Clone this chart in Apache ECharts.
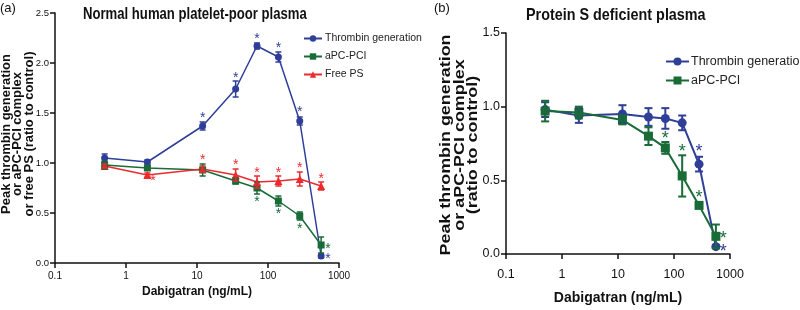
<!DOCTYPE html>
<html>
<head>
<meta charset="utf-8">
<script src="https://cdn.jsdelivr.net/npm/echarts@6/dist/echarts.min.js"></script>
<style>
  html, body { margin: 0; padding: 0; background: #fff; }
  #chart { width: 800px; height: 310px; }
</style>
</head>
<body>
<div id="chart"></div>
<script>
// dabigatran doses (ng/mL)
var doses = [0.5, 2, 12, 35, 70, 140, 280, 560];
var xTicks = ["0.1", "1", "10", "100", "1000"];

// (a) normal human platelet-poor plasma
var aThrombin = [1.05, 1.01, 1.37, 1.74, 2.17, 2.06, 1.42, 0.07];
var aThrombinErr = [0.04, 0.02, 0.04, 0.08, 0.03, 0.05, 0.04, 0.02];
var aApc = [0.98, 0.95, 0.93, 0.82, 0.75, 0.62, 0.47, 0.18];
var aApcErr = [0.04, 0.02, 0.06, 0.03, 0.06, 0.05, 0.04, 0.08];
var aFreePs = [0.97, 0.88, 0.94, 0.88, 0.81, 0.82, 0.84, 0.77];
var aFreePsErr = [0.02, 0.02, 0.03, 0.06, 0.06, 0.05, 0.07, 0.04];
// significance marks [dose, ratio]
var aThrombinStars = [[12, 1.48], [35, 1.88], [70, 2.27], [140, 2.18], [280, 1.54], [700, 0.07]];
var aApcStars = [[70, 0.64], [140, 0.52], [280, 0.37], [700, 0.17]];
var aFreePsStars = [[2.4, 0.85], [12, 1.06], [35, 1.01], [70, 0.93], [140, 0.93], [280, 0.98], [560, 0.87]];

// (b) protein S deficient plasma
var bThrombin = [0.98, 0.94, 0.95, 0.93, 0.92, 0.89, 0.61, 0.05];
var bThrombinErr = [0.05, 0.05, 0.06, 0.06, 0.07, 0.05, 0.05, 0.01];
var bApc = [0.97, 0.96, 0.91, 0.80, 0.72, 0.53, 0.33, 0.12];
var bApcErr = [0.07, 0.04, 0.03, 0.06, 0.04, 0.14, 0.02, 0.08];
var bThrombinStars = [[280, 0.72], [760, 0.04]];
var bApcStars = [[70, 0.81], [140, 0.72], [280, 0.41], [760, 0.13]];

var BLUE = "#2f3f98";
var GREEN = "#196b37";
var RED = "#ec2a2f";
var FONT = "Liberation Sans, Arial, sans-serif";

function pairs(ys) {
  return doses.map(function (d, i) { return [d, ys[i]]; });
}
function triples(ys, errs) {
  return doses.map(function (d, i) { return [d, ys[i], errs[i]]; });
}

function lineSeries(name, idx, ys, color, symbol, size, width) {
  return {
    type: "line", name: name, xAxisIndex: idx, yAxisIndex: idx,
    data: pairs(ys), symbol: symbol, symbolSize: size,
    itemStyle: { color: color },
    lineStyle: { color: color, width: width },
    z: 3
  };
}

function errSeries(idx, ys, errs, color, cap, width) {
  return {
    type: "custom", name: "err" + idx + color, xAxisIndex: idx, yAxisIndex: idx,
    data: triples(ys, errs),
    encode: { x: 0, y: 1 },
    z: 4,
    renderItem: function (params, api) {
      var x = api.value(0), y = api.value(1), e = api.value(2);
      var hi = api.coord([x, y + e]);
      var lo = api.coord([x, y - e]);
      var st = { stroke: color, lineWidth: width };
      return {
        type: "group",
        children: [
          { type: "line", shape: { x1: hi[0], y1: hi[1], x2: lo[0], y2: lo[1] }, style: st },
          { type: "line", shape: { x1: hi[0] - cap, y1: hi[1], x2: hi[0] + cap, y2: hi[1] }, style: st },
          { type: "line", shape: { x1: lo[0] - cap, y1: lo[1], x2: lo[0] + cap, y2: lo[1] }, style: st }
        ]
      };
    }
  };
}

function starSeries(idx, pts, color, fs) {
  return {
    type: "custom", name: "star" + idx + color, xAxisIndex: idx, yAxisIndex: idx,
    data: pts,
    encode: { x: 0, y: 1 },
    z: 5,
    renderItem: function (params, api) {
      var p = api.coord([api.value(0), api.value(1)]);
      return {
        type: "text",
        x: p[0], y: p[1] + fs * 0.22,
        style: {
          text: "*", fill: color, fontSize: fs, fontFamily: FONT,
          align: "center", verticalAlign: "middle"
        }
      };
    }
  };
}

function xAxis(idx, fs, weight, margin, gap, nameFs) {
  return {
    type: "log", logBase: 10, min: 0.1, max: 1000, gridIndex: idx,
    name: "Dabigatran (ng/mL)", nameLocation: "middle", nameGap: gap,
    nameTextStyle: { fontFamily: FONT, fontSize: nameFs, fontWeight: "bold", color: "#111" },
    axisLine: { lineStyle: { color: "#111", width: 1.5 } },
    axisTick: { show: true, length: 5, lineStyle: { color: "#111", width: 1.5 } },
    minorTick: { show: false },
    splitLine: { show: false },
    axisLabel: {
      margin: margin, fontSize: fs, fontWeight: weight, fontFamily: FONT, color: "#111",
      formatter: function (v) {
        var k = Math.round(Math.log(v) / Math.LN10) + 1;
        return xTicks[k];
      }
    }
  };
}

function yAxis(idx, max, fs, weight) {
  return {
    type: "value", min: 0, max: max, interval: 0.5, gridIndex: idx,
    axisLine: { show: true, lineStyle: { color: "#111", width: 1.5 } },
    axisTick: { show: true, length: 5, lineStyle: { color: "#111", width: 1.5 } },
    splitLine: { show: false },
    axisLabel: {
      margin: 6, fontSize: fs, fontWeight: weight, fontFamily: FONT, color: "#111",
      formatter: function (v) { return v.toFixed(1); }
    }
  };
}

// titles and rotated axis names, squeezed / stretched like the source figure
function label(text, x, y, fs, weight, sx, rot, lh, align) {
  return {
    type: "text", x: x, y: y, rotation: rot || 0, scaleX: sx,
    style: {
      text: text, fontFamily: FONT, fontSize: fs, fontWeight: weight, fill: "#111",
      align: align || "left", verticalAlign: "middle", lineHeight: lh || fs
    }
  };
}

var chart = echarts.init(document.getElementById("chart"));

var option = {
  animation: false,
  backgroundColor: "#fff",
  graphic: [
    label("(a)", 0, 8, 13, "normal", 1),
    label("Normal human platelet-poor plasma", 83, 15, 16, "bold", 0.82),
    label("(b)", 434, 8, 13, "normal", 1),
    label("Protein S deficient plasma", 526, 15, 17, "bold", 0.845),
    label("Peak thrombin generation\nor aPC-PCI complex\nor free PS (ratio to control)", 18, 134, 12, "bold", 1.08, Math.PI / 2, 11.5, "center"),
    label("Peak thrombin generation\nor aPC-PCI complex\n(ratio to control)", 460, 145, 14, "bold", 1.28, Math.PI / 2, 13.5, "center")
  ],
  legend: [
    {
      orient: "vertical", left: 298, top: 28, itemWidth: 18, itemHeight: 8, itemGap: 7,
      data: ["Thrombin generation", "aPC-PCI", "Free PS"],
      textStyle: { fontFamily: FONT, fontSize: 10.5, color: "#222", padding: [0, 0, 0, -2] }
    },
    {
      orient: "vertical", left: 660, top: 50, itemWidth: 23, itemHeight: 10, itemGap: 6,
      data: ["Thrombin generation", "aPC-PCI"],
      textStyle: { fontFamily: FONT, fontSize: 12.5, color: "#222", padding: [0, 0, 0, -3] }
    }
  ],
  grid: [
    { left: 55, right: 461, top: 13, bottom: 47 },
    { left: 506, right: 70, top: 33, bottom: 53 }
  ],
  xAxis: [
    xAxis(0, 10, "normal", 8, 23, 12),
    xAxis(1, 12.5, "normal", 14, 37, 14)
  ],
  yAxis: [
    yAxis(0, 2.5, 9.5, "normal"),
    yAxis(1, 1.5, 12.5, "normal")
  ],
  series: [
    lineSeries("Thrombin generation", 0, aThrombin, BLUE, "circle", 7, 1.5),
    lineSeries("aPC-PCI", 0, aApc, GREEN, "rect", 7, 1.5),
    lineSeries("Free PS", 0, aFreePs, RED, "triangle", 8, 1.5),
    errSeries(0, aThrombin, aThrombinErr, BLUE, 3, 1.5),
    errSeries(0, aApc, aApcErr, GREEN, 3, 1.5),
    errSeries(0, aFreePs, aFreePsErr, RED, 3, 1.5),
    starSeries(0, aThrombinStars, BLUE, 14),
    starSeries(0, aApcStars, GREEN, 14),
    starSeries(0, aFreePsStars, RED, 14),

    lineSeries("Thrombin generation", 1, bThrombin, BLUE, "circle", 9, 2),
    lineSeries("aPC-PCI", 1, bApc, GREEN, "rect", 9, 2),
    errSeries(1, bThrombin, bThrombinErr, BLUE, 4, 2),
    errSeries(1, bApc, bApcErr, GREEN, 4, 2),
    starSeries(1, bThrombinStars, BLUE, 18),
    starSeries(1, bApcStars, GREEN, 18)
  ]
};

chart.setOption(option);
window.onresize = chart.resize;
</script>
</body>
</html>
